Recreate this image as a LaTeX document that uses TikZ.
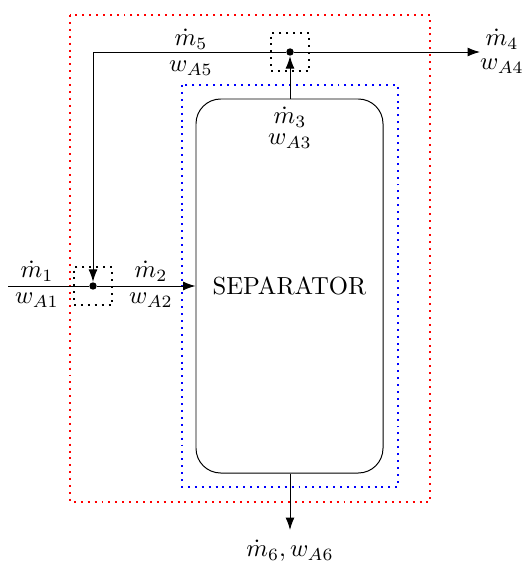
\documentclass[tikz,border=0pt]{standalone}
\usetikzlibrary{arrows.meta}
\begin{document}
\begin{tikzpicture}[x=0.405pt,y=-0.405pt,
  flow/.style={-{Latex[length=5pt,width=3.6pt]}},
  mixbox/.style={draw,dotted,thick,minimum width=38*0.405pt,minimum height=38*0.405pt,inner sep=0pt},
  dotpt/.style={circle,fill,inner sep=0pt,minimum size=3pt},
  lbl/.style={inner sep=0pt}]
\useasboundingbox (0,0) rectangle (526,563);
% envelopes
\draw[red,dotted,thick] (70,15) rectangle (430,502);
\draw[blue,dotted,thick] (182,85) rectangle (398,487);
% separator
\node[draw,rounded corners=10pt,minimum width=187*0.405pt,minimum height=374*0.405pt,inner sep=0pt] (sep) at (289.5,286) {};
\node[lbl] (septext) at (289.5,286) {SEPARATOR};
% mixers
\node[mixbox] (mixL) at (93,286) {};
\node[mixbox] (mixT) at (290,52) {};
\node[dotpt] (dL) at (93,286) {};
\node[dotpt] (dT) at (290,52) {};
\coordinate (in1) at (8,286);
\coordinate (out4) at (480,52);
\coordinate (out6) at (290,530);
\coordinate (corner) at (93,52);
% flows
\draw (in1) -- (dL);
\draw[flow] (dL) -- (sep.west |- dL);
\draw[flow] (sep.north -| dT) -- (dT);
\draw[flow] (dT) -- (out4);
\draw[flow] (dT) -- (corner) -- (dL);
\draw[flow] (sep.south -| out6) -- (out6);
% labels
\node[lbl] (m1) at (37,271) {$\dot m_1$};
\node[lbl] (w1) at (37,300) {$w_{A1}$};
\node[lbl] (m2) at (151,271) {$\dot m_2$};
\node[lbl] (w2) at (151,300) {$w_{A2}$};
\node[lbl] (m5) at (191,39) {$\dot m_5$};
\node[lbl] (w5) at (191,68) {$w_{A5}$};
\node[lbl] (m4) at (502,39) {$\dot m_4$};
\node[lbl] (w4) at (502,66) {$w_{A4}$};
\node[lbl] (m3) at (290,117) {$\dot m_3$};
\node[lbl] (w3) at (290,141) {$w_{A3}$};
\node[lbl] (m6) at (290,551) {$\dot m_6, w_{A6}$};
\end{tikzpicture}
\end{document}
